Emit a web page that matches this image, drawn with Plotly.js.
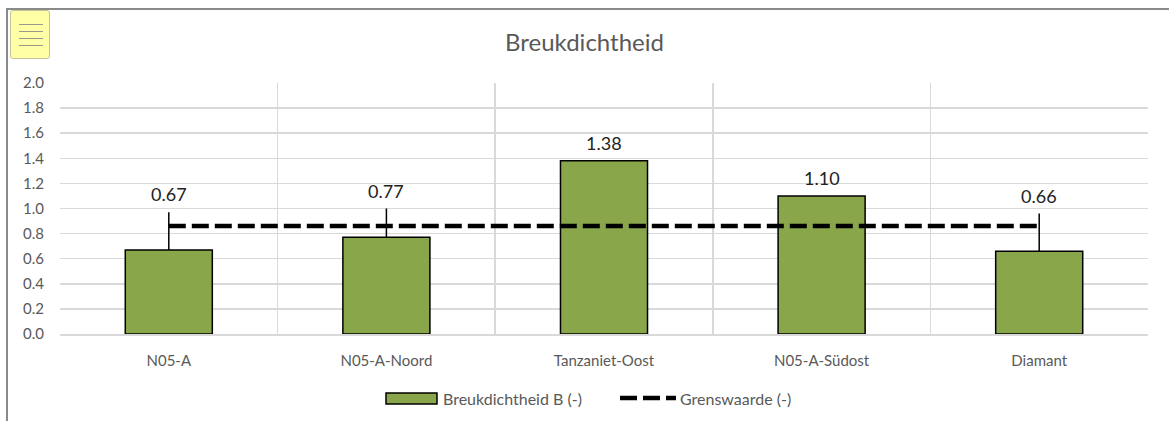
<!DOCTYPE html>
<html>
<head>
<meta charset="utf-8">
<script src="https://cdn.plot.ly/plotly-3.0.1.min.js"></script>
<style>
  html, body { margin:0; padding:0; width:1169px; height:421px; overflow:hidden; background:#fff; }
  #chart { position:absolute; left:0; top:0; width:1169px; height:421px; }
  #frame { position:absolute; left:6px; top:8px; width:1200px; height:500px; border:2px solid #8a8a8a; pointer-events:none; box-sizing:border-box; }
  #menu { position:absolute; left:10px; top:10px; width:40px; height:49px; background:#ffffa6; border:1px solid #c4c49a; border-radius:3px; box-sizing:border-box; pointer-events:none; }
  #menu div { position:absolute; left:8px; width:24px; height:1px; background:#9a9a8a; }
</style>
</head>
<body>
<div id="chart"></div>
<div id="frame"></div>
<div id="menu"><div style="top:13px"></div><div style="top:20px"></div><div style="top:27px"></div><div style="top:34px"></div></div>
<script>
const categories = ["N05-A", "N05-A-Noord", "Tanzaniet-Oost", "N05-A-Südost", "Diamant"];
const breukdichtheid = [0.67, 0.77, 1.38, 1.10, 0.66];
const errPlus = [0.30, 0.23, 0, 0, 0.30];
const grenswaarde = [0.86, 0.86, 0.86, 0.86, 0.86];
const yTicks = [0, 0.2, 0.4, 0.6, 0.8, 1.0, 1.2, 1.4, 1.6, 1.8, 2.0];
const legendNames = ["Breukdichtheid B (-)", "Grenswaarde (-)"];

const FONT = "Lato, 'Open Sans', sans-serif";
const BAR_COLOR = "#8aa64b";
const GRID = "#d9d9d9";

// layout geometry (pixels)
const W = 1169, H = 421, ML = 60, MR = 21, MT = 83, MB = 87;
const PW = W - ML - MR, PH = H - MT - MB;
const px = x => (x - ML) / PW;
const py = y => (H - MB - y) / PH;

const labelY = breukdichtheid.map((v, i) => v + errPlus[i]);
const labelText = breukdichtheid.map(v => v.toFixed(2));

const traces = [
  {
    type: "bar",
    name: legendNames[0],
    x: categories,
    y: breukdichtheid,
    width: 0.4,
    marker: { color: BAR_COLOR, line: { color: "#000", width: 1.5 } },
    error_y: { type: "data", symmetric: false, array: errPlus, arrayminus: [0,0,0,0,0], color: "#000", thickness: 1.5, width: 0 },
    hoverinfo: "skip",
    showlegend: false
  },
  {
    type: "scatter",
    mode: "lines",
    name: legendNames[1],
    x: categories,
    y: grenswaarde,
    line: { color: "#000", width: 4.5, dash: "17px,6px" },
    hoverinfo: "skip",
    showlegend: false
  }
];

const annotations = categories.map((c, i) => ({
  x: c, y: labelY[i], xref: "x", yref: "y",
  text: labelText[i], showarrow: false,
  xanchor: "center", yanchor: "bottom", yshift: 5,
  font: { family: FONT, size: 18, color: "#222" }
}));

// custom legend (Excel style)
annotations.push(
  { xref: "paper", yref: "paper", x: px(441), y: py(398), xanchor: "left", yanchor: "middle",
    text: legendNames[0], showarrow: false, font: { family: FONT, size: 16, color: "#595959" } },
  { xref: "paper", yref: "paper", x: px(678), y: py(398), xanchor: "left", yanchor: "middle",
    text: legendNames[1], showarrow: false, font: { family: FONT, size: 16, color: "#595959" } }
);

const shapes = [
  { type: "rect", xref: "paper", yref: "paper", x0: px(386), x1: px(437), y0: py(404), y1: py(393),
    fillcolor: BAR_COLOR, line: { color: "#000", width: 1.5 } },
  { type: "line", xref: "paper", yref: "paper", x0: px(620), x1: px(676), y0: py(398), y1: py(398),
    line: { color: "#000", width: 4.5, dash: "17px,6px" } }
];

const layout = {
  width: W, height: H,
  margin: { l: ML, r: MR, t: MT, b: MB, autoexpand: false },
  paper_bgcolor: "#fff", plot_bgcolor: "#fff",
  title: { text: "Breukdichtheid", font: { family: FONT, size: 24, color: "#595959" }, x: 0.5, xanchor: "center", y: 1 - 43 / H, yanchor: "middle" },
  font: { family: FONT, color: "#595959" },
  xaxis: {
    type: "category",
    tickson: "boundaries",
    showgrid: true, gridcolor: GRID, gridwidth: 1.5,
    ticks: "", showline: true, linecolor: GRID, linewidth: 1.5,
    tickfont: { family: FONT, size: 15, color: "#595959" },
    ticklabelstandoff: 12,
    range: [-0.5, 4.5], fixedrange: true, automargin: false
  },
  yaxis: {
    range: [0, 2.0],
    tickvals: yTicks,
    ticktext: yTicks.map(v => v.toFixed(1)),
    showgrid: true, gridcolor: GRID, gridwidth: 1.5,
    zeroline: false, showline: false, ticks: "",
    tickfont: { family: FONT, size: 15, color: "#595959" },
    ticklabelstandoff: 15,
    fixedrange: true, automargin: false
  },
  showlegend: false,
  annotations: annotations,
  shapes: shapes
};

Plotly.newPlot("chart", traces, layout, { displayModeBar: false, staticPlot: true });
</script>
</body>
</html>
